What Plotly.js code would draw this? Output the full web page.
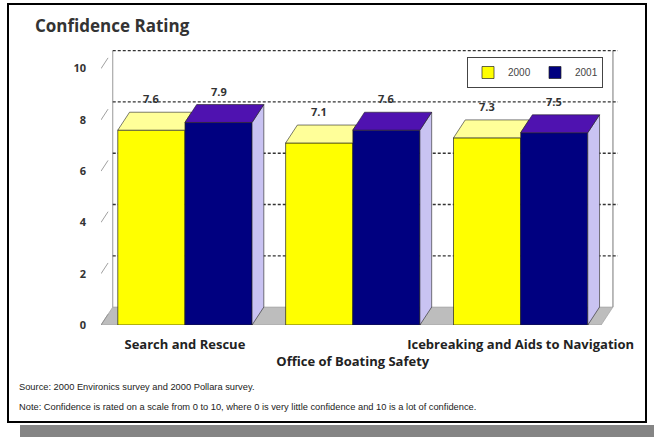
<!DOCTYPE html>
<html><head><meta charset="utf-8">
<script src="https://cdn.plot.ly/plotly-3.0.1.min.js"></script>
<style>html,body{margin:0;padding:0;background:#fff}#chart{width:654px;height:437px}</style>
</head><body><div id="chart"></div>
<script>
// ---- data ----
const categories = ['Search and Rescue', 'Office of Boating Safety', 'Icebreaking and Aids to Navigation'];
const values2000 = [7.6, 7.1, 7.3];
const values2001 = [7.9, 7.6, 7.5];
const seriesNames = ['2000', '2001'];
const yTickValues = [0, 2, 4, 6, 8, 10];
const chartTitle = 'Confidence Rating';
const sourceNote = 'Source: 2000 Environics survey and 2000 Pollara survey.';
const scaleNote = 'Note: Confidence is rated on a scale from 0 to 10, where 0 is very little confidence and 10 is a lot of confidence.';

// ---- geometry / style ----
const DX = 0.07, DY = 0.7;          // pseudo 3-D depth in axis units
const HALF = 0.4;                   // half width of a bar group (bargap 0.2)
const FW = 654, FH = 437, L = 101, R = 36, T = 43, B = 112;
const PW = FW - L - R, PH = FH - T - B;
const px = x => (x - L) / PW;
const py = y => (FH - B - y) / PH;
const FONT = 'Open Sans, Arial, sans-serif';
const EDGE = '#222';

const xs = categories.map((_, i) => i);

const traces = [
  { type: 'bar', name: seriesNames[0], x: xs, y: values2000,
    marker: { color: '#ffff00', line: { color: EDGE, width: 0.7 } }, hoverinfo: 'skip' },
  { type: 'bar', name: seriesNames[1], x: xs, y: values2001,
    marker: { color: '#000080', line: { color: EDGE, width: 0.7 } }, hoverinfo: 'skip' }
];

function face(pts, fill) {
  const p = pts.concat([pts[0]]);
  traces.push({ type: 'scatter', mode: 'lines', x: p.map(q => q[0]), y: p.map(q => q[1]),
    fill: 'toself', fillcolor: fill, line: { color: EDGE, width: 0.6 },
    showlegend: false, hoverinfo: 'skip' });
}

xs.forEach((c, i) => {
  const vy = values2000[i], vb = values2001[i];
  const x0 = c - HALF, xm = c, x1 = c + HALF;
  const hidden = Math.max(0, vy + DY - vb);
  face([[x0, vy], [xm, vy], [xm, Math.min(vb, vy + DY)], [xm + DX * hidden / DY, vy + DY], [x0 + DX, vy + DY]], '#ffff99');
  face([[x1, 0], [x1 + DX, DY], [x1 + DX, vb + DY], [x1, vb]], '#c9c3f2');
  face([[xm, vb], [x1, vb], [x1 + DX, vb + DY], [xm + DX, vb + DY]], '#4f12b0');
});

// ---- walls, floor, grid ----
const xL = -0.5, xRf = 2.48;
const shapes = [
  { type: 'path', xref: 'x', yref: 'y', layer: 'below',
    path: `M ${xL},0 L ${xRf},0 L ${xRf + DX},${DY} L ${xL + DX},${DY} Z`,
    fillcolor: '#bdbdbd', line: { color: '#9a9a9a', width: 0.6 } },
  { type: 'line', xref: 'x', yref: 'y', layer: 'below', x0: xL + DX, x1: xL + DX, y0: DY, y1: 10 + DY,
    line: { color: '#999', width: 1 } },
  { type: 'line', xref: 'x', yref: 'y', layer: 'below', x0: xRf + DX, x1: xRf + DX, y0: DY, y1: 10 + DY,
    line: { color: '#777', width: 1 } }
];
yTickValues.forEach(v => {
  if (v > 0) shapes.push({ type: 'line', xref: 'x', yref: 'y', layer: 'below',
    x0: xL + DX, x1: xRf + DX + 0.03, y0: v + DY, y1: v + DY,
    line: { color: '#333', width: 1.3, dash: '3px,2px' } });
  shapes.push({ type: 'line', xref: 'x', yref: 'y', layer: 'below',
    x0: xL, x1: xL + DX * 0.6, y0: v, y1: v + DY * 0.6, line: { color: '#888', width: 0.8 } });
});
shapes.push({ type: 'rect', xref: 'paper', yref: 'paper', layer: 'below',
  x0: px(20), x1: px(654), y0: py(437), y1: py(425), fillcolor: '#858585', line: { width: 0 } });
shapes.push({ type: 'rect', xref: 'paper', yref: 'paper', layer: 'above',
  x0: px(8), x1: px(646), y0: py(422), y1: py(4), line: { color: '#000', width: 2 } });

// ---- annotations ----
const annotations = [];
[values2000, values2001].forEach((vals, s) => {
  vals.forEach((v, i) => annotations.push({
    x: xs[i] + (s === 0 ? -HALF / 2 : HALF / 2), y: v + DY, xref: 'x', yref: 'y',
    text: v.toFixed(1), showarrow: false, yanchor: 'bottom', yshift: 4,
    font: { family: FONT, size: 11, color: '#333', weight: 'bold' } }));
});
const NOTEFONT = { family: 'Liberation Sans, Arial, sans-serif', size: 9.3, color: '#222' };
annotations.push({ xref: 'paper', yref: 'paper', x: px(17), y: py(387), xanchor: 'left', yanchor: 'middle',
  text: sourceNote, showarrow: false, font: NOTEFONT });
annotations.push({ xref: 'paper', yref: 'paper', x: px(17), y: py(407), xanchor: 'left', yanchor: 'middle',
  text: scaleNote, showarrow: false, font: NOTEFONT });

const layout = {
  width: FW, height: FH,
  margin: { l: L, r: R, t: T, b: B },
  paper_bgcolor: '#fff', plot_bgcolor: 'rgba(0,0,0,0)',
  barmode: 'group', bargap: 0.2, bargroupgap: 0,
  hovermode: false,
  title: { text: chartTitle, xref: 'container', yref: 'container', x: 35 / FW, xanchor: 'left',
    y: 1 - 26 / FH, yanchor: 'middle', font: { family: FONT, size: 17, color: '#333', weight: 'bold' } },
  xaxis: { range: [-0.5, 2.58], tickvals: xs,
    ticktext: categories.map((c, i) => (i % 2 ? '<br>' + c : c)),
    tickangle: 0, showgrid: false, zeroline: false, showline: false, ticks: '',
    ticklabelstandoff: 10, tickfont: { family: FONT, size: 13, color: '#222', weight: 'bold' }, fixedrange: true },
  yaxis: { range: [0, 11], tickvals: yTickValues, showgrid: false, zeroline: false, showline: false,
    ticks: '', ticklabelstandoff: 14, tickfont: { family: FONT, size: 11, color: '#333', weight: 'bold' }, fixedrange: true },
  showlegend: true,
  legend: { orientation: 'h', x: px(603), xanchor: 'right', y: py(57), yanchor: 'top',
    bordercolor: '#444', borderwidth: 1, bgcolor: '#fff', itemwidth: 30, entrywidth: 22,
    font: { family: 'Liberation Sans, Arial, sans-serif', size: 10, color: '#444' }, traceorder: 'normal' },
  shapes: shapes,
  annotations: annotations
};

Plotly.newPlot('chart', traces, layout, { displayModeBar: false, staticPlot: true });
</script>
</body></html>
